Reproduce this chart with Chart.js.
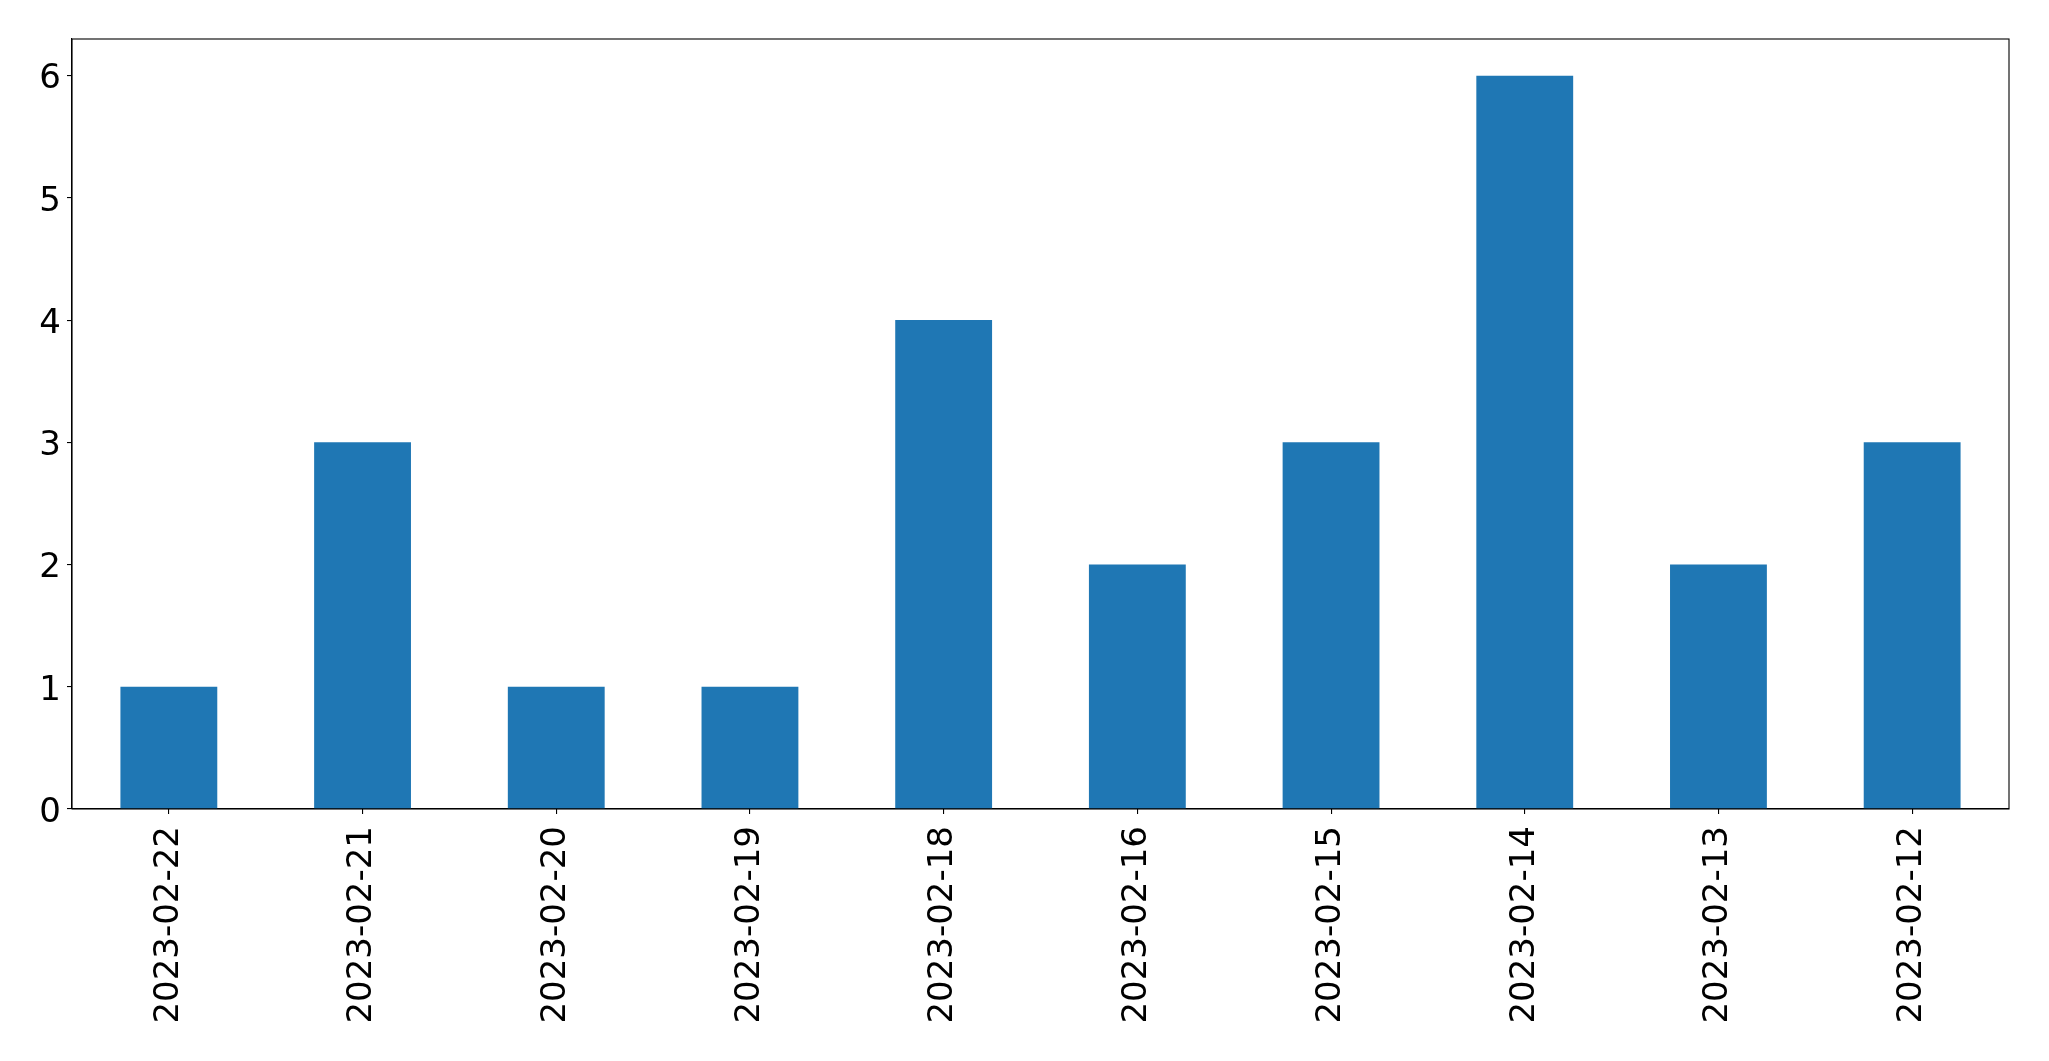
<!DOCTYPE html>
<html>
<head>
<meta charset="utf-8">
<script src="https://cdn.jsdelivr.net/npm/chart.js@4"></script>
<style>
  body { margin: 0; background: #fff; }
</style>
</head>
<body>
<canvas id="canvas" width="2049" height="1061"></canvas>
<script>
const dates = ['2023-02-22', '2023-02-21', '2023-02-20', '2023-02-19', '2023-02-18',
               '2023-02-16', '2023-02-15', '2023-02-14', '2023-02-13', '2023-02-12'];
const counts = [1, 3, 1, 1, 4, 2, 3, 6, 2, 3];
const yTicks = [0, 1, 2, 3, 4, 5, 6];

// top and right spines, matplotlib style
const frame = {
    id: 'frame',
    afterDraw(chart) {
        const a = chart.chartArea;
        const c = chart.ctx;
        c.save();
        c.strokeStyle = '#000';
        c.lineWidth = 1.1;
        c.strokeRect(a.left, a.top, a.right - a.left, a.bottom - a.top);
        c.restore();
    }
};

const ctx = document.getElementById('canvas').getContext('2d');
const chart = new Chart(ctx, {
    type: 'bar',
    data: {
        labels: dates,
        datasets: [{
            data: counts,
            backgroundColor: '#1f77b4',
            borderWidth: 0,
            categoryPercentage: 0.5,
            barPercentage: 1.0
        }]
    },
    options: {
        responsive: false,
        animation: false,
        layout: { padding: { top: 39, right: 40, left: 0, bottom: 0 } },
        plugins: { legend: { display: false }, tooltip: { enabled: false } },
        scales: {
            x: {
                offset: true,
                grid: { display: true, offset: false, drawOnChartArea: false, drawTicks: true, tickLength: 5, color: '#000', lineWidth: 1.1 },
                border: { display: true, color: '#000', width: 1.1 },
                ticks: {
                    color: '#000',
                    font: { family: 'DejaVu Sans', size: 34 },
                    minRotation: 90,
                    maxRotation: 90,
                    padding: 12,
                    autoSkip: false
                },
                afterFit(scale) { scale.height = 252; }
            },
            y: {
                min: 0,
                max: 6.3,
                grid: { display: true, drawOnChartArea: false, drawTicks: true, tickLength: 5, color: '#000', lineWidth: 1.1 },
                border: { display: true, color: '#000', width: 1.1 },
                ticks: {
                    color: '#000',
                    font: { family: 'DejaVu Sans', size: 34 },
                    stepSize: 1,
                    padding: 6,
                    labelOffset: 4
                },
                afterBuildTicks(scale) {
                    scale.ticks = yTicks.map(v => ({ value: v }));
                },
                afterFit(scale) { scale.width = 72; }
            }
        }
    },
    plugins: [frame]
});
</script>
</body>
</html>
